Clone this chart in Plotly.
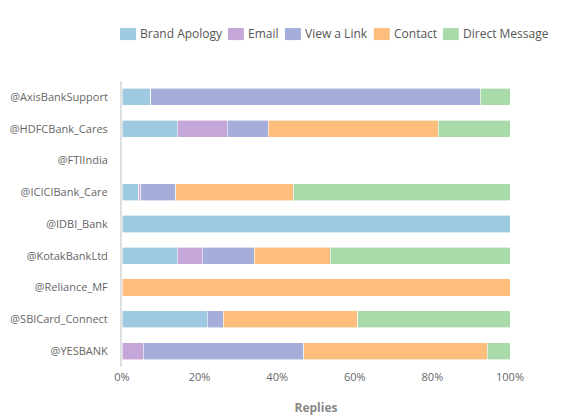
import plotly.graph_objects as go

accounts = ["@AxisBankSupport", "@HDFCBank_Cares", "@FTIIndia", "@ICICIBank_Care",
            "@IDBI_Bank", "@KotakBankLtd", "@Reliance_MF", "@SBICard_Connect", "@YESBANK"]

brand_apology = [7.4, 14.3, 0, 4.3, 100, 14.3, 0, 22.0, 0]
email = [0, 12.8, 0, 0.5, 0, 6.4, 0, 0, 5.5]
view_link = [84.9, 10.6, 0, 9.1, 0, 13.4, 0, 4.1, 41.4]
contact = [0, 43.8, 0, 30.2, 0, 19.6, 100, 34.6, 47.2]
direct_message = [7.7, 18.5, 0, 55.9, 0, 46.3, 0, 39.3, 5.9]

tick_values = [0, 20, 40, 60, 80, 100]
tick_labels = ["0%", "20%", "40%", "60%", "80%", "100%"]

series_names = ["Brand Apology", "Email", "View a Link", "Contact", "Direct Message"]
series_values = [brand_apology, email, view_link, contact, direct_message]
series_colors = ["#9ecae1", "#c4a6d8", "#a5addb", "#fdbe7d", "#a9dbaa"]

# legend layout (paper coordinates of swatch left edges), one row above plot
legend_swatch_x = [-0.005, 0.273, 0.420, 0.649, 0.827]
swatch_w = 0.041
text_gap = 0.005

fig = go.Figure()
for name, vals, color in zip(series_names, series_values, series_colors):
    fig.add_trace(go.Bar(
        y=accounts, x=vals, name=name, orientation="h",
        marker=dict(color=color, line=dict(color="white", width=0.6)),
        showlegend=False,
    ))

for name, color, x0 in zip(series_names, series_colors, legend_swatch_x):
    fig.add_shape(type="rect", xref="paper", yref="paper",
                  x0=x0, x1=x0 + swatch_w, y0=1.143, y1=1.185,
                  fillcolor=color, line=dict(width=0), layer="above")
    fig.add_annotation(xref="paper", yref="paper", x=x0 + swatch_w + text_gap, y=1.166,
                       xanchor="left", yanchor="middle", text=name, showarrow=False,
                       font=dict(size=12, color="#555"))

fig.update_layout(
    width=566, height=416,
    barmode="stack", bargap=0.46,
    margin=dict(l=114, r=64, t=73, b=57, autoexpand=False),
    paper_bgcolor="white", plot_bgcolor="white",
    font=dict(family="Open Sans", size=11, color="#666"),
    showlegend=False,
    xaxis=dict(range=[0, 100], tickmode="array", tickvals=tick_values, ticktext=tick_labels,
               showgrid=False, zeroline=False, showline=False, ticks="",
               ticklabelstandoff=2,
               title=dict(text="<b>Replies</b>", font=dict(size=12, color="#888"), standoff=20)),
    yaxis=dict(autorange="reversed", showgrid=False, zeroline=False,
               showline=True, linecolor="#e0e0e0", linewidth=2,
               ticks="", ticklabelstandoff=10),
)

fig.write_html("out.html")
